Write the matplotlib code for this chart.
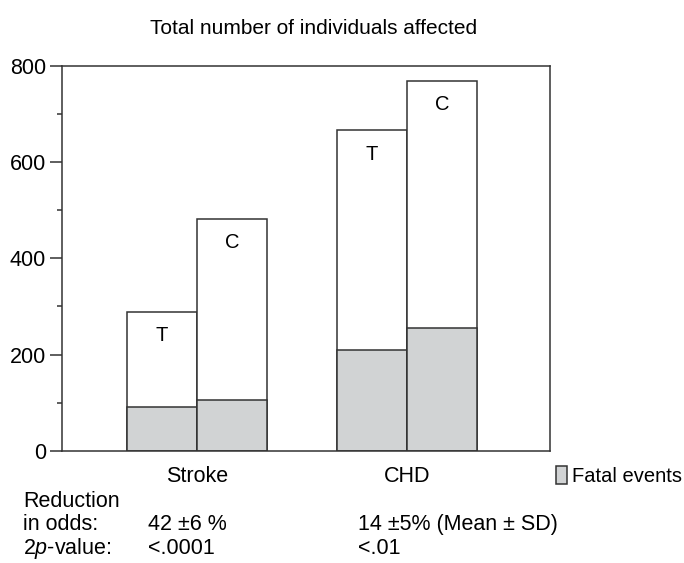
import numpy as np
import matplotlib
matplotlib.use('Agg')
from matplotlib import pyplot as plt
from matplotlib.patches import Patch
from matplotlib.ticker import MultipleLocator

plt.rcParams['font.family'] = ['Liberation Sans', 'DejaVu Sans']
plt.rcParams['mathtext.fontset'] = 'custom'
plt.rcParams['mathtext.rm'] = 'Liberation Sans'
plt.rcParams['mathtext.it'] = 'Liberation Sans:italic'

# data
groups = ['Stroke', 'CHD']
arms = ['T', 'C']
total = {'T': [289, 666], 'C': [481, 769]}
fatal = {'T': [91, 210], 'C': [106, 256]}
odds_text = ['42 \u00b16 %', '14 \u00b15% (Mean \u00b1 SD)']
p_text = ['<.0001', '<.01']

edge = '#333333'
grey = '#d1d3d4'
lw = 1.1
fs = 15.5

fig = plt.figure(figsize=(6.84, 5.63), dpi=100)
ax = fig.add_axes([0.0906, 0.1995, 0.7134, 0.6833])

x = np.arange(len(groups))
w = 1 / 3
offs = {'T': -w / 2, 'C': w / 2}
for arm in arms:
    xs = x + offs[arm]
    ax.bar(xs, total[arm], width=w, color='white', edgecolor=edge, linewidth=lw)
    ax.bar(xs, fatal[arm], width=w, color=grey, edgecolor=edge, linewidth=lw)
    for xi, v in zip(xs, total[arm]):
        ax.annotate(arm, (xi, v), xytext=(0, -17), textcoords='offset points',
                    ha='center', va='center', fontsize=14.5)

ax.set_xlim(-0.643, 1.681)
ax.set_ylim(0, 800)
ax.set_xticks(x)
ax.set_xticklabels(groups, fontsize=fs)
ax.tick_params(axis='x', length=0, pad=11)
ax.yaxis.set_major_locator(MultipleLocator(200))
ax.yaxis.set_minor_locator(MultipleLocator(100))
ax.tick_params(axis='y', which='major', length=8.6, width=lw, color=edge, labelsize=fs, pad=3)
ax.tick_params(axis='y', which='minor', length=3.6, width=lw, color=edge)
for s in ax.spines.values():
    s.set_color(edge)
    s.set_linewidth(lw)

fig.text(0.459, 0.950, 'Total number of individuals affected', ha='center', va='center', fontsize=15)

fig.legend(handles=[Patch(facecolor=grey, edgecolor=edge, linewidth=lw, label='Fatal events')],
           loc='center left', bbox_to_anchor=(0.813, 0.1545), frameon=False, fontsize=14.5,
           handlelength=0.55, handleheight=1.0, handletextpad=0.25, borderpad=0, borderaxespad=0)

fig.text(0.0336, 0.110, 'Reduction', va='center', fontsize=fs)
fig.text(0.0336, 0.0675, 'in odds:', va='center', fontsize=fs)
fig.text(0.0336, 0.0266, '2$\\it{p}$-value:', va='center', fontsize=fs)
for xpos, o, p in zip([0.2164, 0.523], odds_text, p_text):
    fig.text(xpos, 0.0675, o, va='center', fontsize=fs)
    fig.text(xpos, 0.0266, p, va='center', fontsize=fs)

fig.savefig('out.png', dpi=100)
